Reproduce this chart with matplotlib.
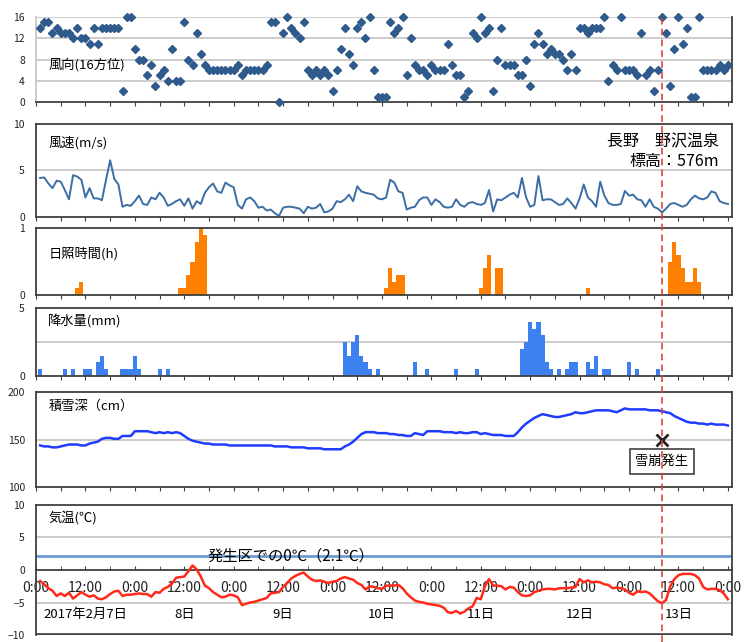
import numpy as np
import matplotlib
matplotlib.use('Agg')
import matplotlib.pyplot as plt
from matplotlib.transforms import blended_transform_factory

plt.rcParams['font.family'] = ['Noto Sans CJK JP', 'DejaVu Sans']

# 1時間毎のデータ (2017/2/7 1時 ～ 2/14 0時)
hours = np.arange(1, 169)

wind_dir = [
    14, 15, 15, 13, 14, 13, 13, 13, 12, 14, 12, 12, 11, 14, 11, 14, 14, 14, 14, 14, 2, 16, 16, 10,
    8, 8, 5, 7, 3, 5, 6, 4, 10, 4, 4, 15, 8, 7, 13, 9, 7, 6, 6, 6, 6, 6, 6, 6,
    7, 5, 6, 6, 6, 6, 6, 7, 15, 15, 0, 13, 16, 14, 13, 12, 15, 6, 5, 6, 5, 6, 5, 2,
    6, 10, 14, 9, 7, 14, 15, 12, 16, 6, 1, 1, 1, 15, 13, 14, 16, 5, 12, 7, 6, 6, 5, 7,
    6, 6, 6, 11, 7, 5, 5, 1, 2, 13, 12, 16, 13, 14, 2, 8, 14, 7, 7, 7, 5, 5, 8, 3,
    11, 13, 11, 9, 10, 9, 9, 8, 6, 9, 6, 14, 14, 13, 14, 14, 14, 16, 4, 7, 6, 16, 6, 6,
    6, 5, 13, 5, 6, 2, 6, 16, 13, 3, 10, 16, 11, 14, 1, 1, 16, 6, 6, 6, 6, 7, 6, 7,
]

wind_speed = [
    4.2, 4.25, 3.6, 3.1, 3.9, 3.8, 2.9, 1.9, 4.5, 4.35, 4.0, 2.1, 3.1, 2.0, 2.0, 1.8, 4.0, 6.1, 4.1, 3.5, 1.1, 1.3, 1.2, 1.7,
    2.3, 1.4, 1.3, 2.1, 1.9, 2.6, 2.1, 1.2, 1.4, 1.7, 1.9, 1.2, 2.0, 0.9, 1.7, 1.4, 2.6, 3.2, 3.6, 2.75, 2.6, 3.7, 3.4, 3.2,
    1.3, 0.9, 1.9, 2.1, 1.7, 1.0, 1.1, 0.7, 0.8, 0.4, 0.1, 1.0, 1.1, 1.1, 1.0, 0.9, 0.4, 1.1, 0.9, 1.0, 1.4, 0.5, 0.6, 0.9,
    1.7, 1.6, 1.9, 2.4, 1.7, 3.3, 2.75, 2.6, 2.5, 2.4, 2.0, 1.9, 2.1, 4.0, 3.7, 2.75, 2.6, 0.8, 1.0, 1.1, 1.8, 2.1, 2.1, 1.3,
    1.9, 1.6, 1.1, 1.0, 1.1, 1.9, 1.3, 1.1, 1.5, 1.6, 1.4, 1.3, 1.5, 2.9, 0.6, 1.9, 1.8, 2.1, 2.4, 2.6, 2.1, 4.2, 2.1, 1.1,
    1.3, 4.4, 1.8, 1.9, 1.9, 1.6, 1.3, 1.4, 2.0, 1.5, 0.9, 2.0, 3.5, 2.1, 1.7, 1.1, 3.8, 2.3, 1.5, 1.3, 1.3, 1.4, 2.8, 2.3,
    2.4, 1.9, 1.8, 1.1, 1.9, 1.1, 0.9, 0.5, 0.9, 1.4, 1.5, 1.3, 1.1, 1.3, 1.9, 2.3, 2.0, 1.9, 2.1, 2.75, 2.6, 1.7, 1.5, 1.4,
]

# 日照時間 (日照のあった時間のみ)
sun_hours = [10, 11, 35, 36, 37, 38, 39, 40, 41, 85, 86, 87, 88, 89,
             108, 109, 110, 112, 113, 134, 154, 155, 156, 157, 158, 159, 160, 161]
sun_values = [0.1, 0.2, 0.1, 0.1, 0.3, 0.5, 0.8, 1.0, 0.9, 0.1, 0.4, 0.2, 0.3, 0.3,
              0.1, 0.4, 0.6, 0.4, 0.4, 0.1, 0.5, 0.8, 0.6, 0.4, 0.2, 0.2, 0.4, 0.2]

# 降水量 (降水のあった時間のみ)
rain_hours = [1, 7, 9, 12, 13, 15, 16, 17, 21, 22, 23, 24, 25, 30, 32,
              75, 76, 77, 78, 79, 80, 81, 83, 92, 95, 102, 107,
              118, 119, 120, 121, 122, 123, 124, 125, 127, 129, 130, 131,
              134, 135, 136, 138, 139, 144, 146, 151]
rain_values = [0.5, 0.5, 0.5, 0.5, 0.5, 1.0, 1.5, 0.5, 0.5, 0.5, 0.5, 1.5, 0.5, 0.5, 0.5,
               2.5, 1.5, 2.5, 3.0, 1.5, 1.0, 0.5, 0.5, 1.0, 0.5, 0.5, 0.5,
               2.0, 2.5, 4.0, 3.5, 4.0, 3.0, 1.0, 0.5, 0.5, 0.5, 1.0, 1.0,
               1.0, 0.5, 1.5, 0.5, 0.5, 1.0, 0.5, 0.5]

snow_depth = [
    144, 143, 143, 142, 142, 143, 144, 145, 145, 145, 144, 144, 146, 147, 148, 151, 152, 152, 151, 151, 154, 154, 154, 159,
    159, 159, 159, 158, 157, 158, 157, 158, 157, 158, 157, 154, 151, 149, 148, 147, 146, 146, 145, 145, 145, 145, 144, 144,
    144, 144, 144, 144, 144, 144, 144, 144, 144, 143, 143, 143, 143, 142, 142, 142, 142, 141, 141, 141, 141, 140, 140, 140,
    140, 140, 143, 145, 148, 152, 156, 158, 158, 158, 157, 157, 157, 156, 156, 155, 155, 154, 154, 157, 156, 155, 159, 159,
    159, 159, 158, 158, 158, 157, 158, 157, 157, 158, 158, 156, 157, 156, 155, 155, 155, 154, 154, 154, 158, 163, 167, 170,
    173, 175, 177, 176, 175, 174, 174, 175, 176, 177, 179, 178, 178, 179, 180, 181, 181, 181, 181, 180, 179, 181, 183, 182,
    182, 182, 182, 182, 181, 181, 181, 180, 179, 178, 175, 173, 171, 169, 168, 168, 167, 167, 166, 167, 166, 166, 166, 165,
]

temperature = [
    -1.7, -2.2, -2.8, -3.2, -4.0, -3.6, -4.0, -3.5, -4.4, -3.9, -3.4, -3.8, -4.1, -3.9, -4.4, -4.5, -4.2, -3.7, -3.3, -3.2, -4.0, -3.8, -3.8, -3.7,
    -3.6, -3.7, -3.7, -4.1, -3.4, -3.5, -2.9, -2.6, -2.1, -1.2, -1.1, -1.0, -0.2, 0.7, 0.1, -1.0, -2.4, -2.8, -3.4, -3.8, -4.2, -4.1, -3.8, -3.9,
    -4.2, -5.4, -5.2, -5.0, -4.9, -4.7, -4.5, -4.3, -3.6, -3.5, -3.4, -2.6, -2.0, -1.3, -0.9, -0.6, -0.4, -1.0, -1.5, -1.7, -1.6, -1.8, -2.0, -1.8,
    -1.7, -1.3, -1.1, -1.3, -1.5, -2.0, -2.3, -3.0, -2.5, -2.6, -2.8, -2.9, -2.4, -2.4, -2.4, -2.3, -2.8, -3.6, -4.2, -4.7, -4.9, -5.0, -5.2, -5.3,
    -5.4, -5.5, -5.8, -6.5, -6.6, -6.3, -6.7, -6.4, -5.9, -5.6, -4.3, -4.5, -2.5, -1.4, -2.4, -2.4, -2.5, -3.0, -2.6, -2.7, -3.4, -3.9, -4.0, -3.9,
    -3.4, -3.2, -3.0, -2.9, -2.9, -3.0, -2.8, -2.8, -2.8, -2.7, -2.6, -1.4, -1.9, -1.6, -1.9, -1.8, -1.9, -2.2, -2.3, -2.8, -2.7, -2.8, -3.0, -3.5,
    -3.8, -3.3, -3.4, -3.3, -3.6, -4.2, -4.8, -5.1, -4.6, -2.5, -1.4, -0.8, -0.6, -0.6, -0.6, -0.8, -1.3, -2.6, -3.0, -2.9, -2.9, -3.1, -3.6, -4.5,
]

avalanche_hour = 152          # 13日 8時
avalanche_depth = 150
zero_level_temp = 2.1         # 発生区での0℃に相当する気温

time_ticks = np.arange(0, 169, 6)
label_ticks = np.arange(0, 169, 12)
time_labels = ['0:00' if t % 24 == 0 else '12:00' for t in label_ticks]
day_centers = [12, 36, 60, 84, 108, 132, 156]
day_labels = ['2017年2月7日', '8日', '9日', '10日', '11日', '12日', '13日']

frame = '#3f3f3f'
grid = '#c8c8c8'

fig = plt.figure(figsize=(7.49, 6.42), dpi=100)
left, width = 0.0481, 0.9292
ax_dir = fig.add_axes([left, 0.8411, width, 0.1324])
ax_ws = fig.add_axes([left, 0.6620, width, 0.1449])
ax_sun = fig.add_axes([left, 0.5405, width, 0.1039])
ax_rain = fig.add_axes([left, 0.4143, width, 0.1055])
ax_snow = fig.add_axes([left, 0.2410, width, 0.1480])
ax_temp = fig.add_axes([left, 0.0109, width, 0.2025])
axes = [ax_dir, ax_ws, ax_sun, ax_rain, ax_snow, ax_temp]

for ax in axes:
    ax.set_xlim(0, 169)
    ax.set_xticks(time_ticks)
    ax.tick_params(axis='x', direction='out', length=3, color=frame, labelbottom=False)
    ax.tick_params(axis='y', length=0, pad=8, labelsize=7.5, labelcolor='#222222')
    for s in ax.spines.values():
        s.set_color(frame)
        s.set_linewidth(1.3)

# 風向
ax_dir.plot(hours, wind_dir, 'D', color='#2f5b8c', markersize=4.2, clip_on=False, zorder=3)
ax_dir.set_ylim(0, 16)
ax_dir.set_yticks([0, 4, 8, 12, 16])
for v in [4, 8, 12, 16]:
    ax_dir.axhline(v, color=grid, lw=1.3, zorder=1)
ax_dir.spines['top'].set_visible(False)
ax_dir.spines['left'].set_color(grid)
ax_dir.text(3, 7, '風向(16方位)', fontsize=9.5, va='center')

# 風速
ax_ws.plot(hours, wind_speed, color='#3b6ea5', lw=1.4)
ax_ws.set_ylim(0, 10)
ax_ws.set_yticks([0, 5, 10])
ax_ws.axhline(5, color=grid, lw=1.3, zorder=1)
ax_ws.text(3, 8, '風速(m/s)', fontsize=9.5, va='center')
ax_ws.text(165.8, 8.1, '長野　野沢温泉', fontsize=11.5, ha='right', va='center')
ax_ws.text(165.8, 5.95, '標高：576m', fontsize=11.5, ha='right', va='center')

# 日照時間
ax_sun.bar(sun_hours, sun_values, width=1.0, color='#ff7f00')
ax_sun.set_ylim(0, 1)
ax_sun.set_yticks([0, 1])
ax_sun.text(3, 0.62, '日照時間(h)', fontsize=9.5, va='center')

# 降水量
ax_rain.bar(rain_hours, rain_values, width=1.0, color='#3d80f0')
ax_rain.set_ylim(0, 5)
ax_rain.set_yticks([0, 5])
ax_rain.axhline(2.5, color=grid, lw=1.3, zorder=0)
ax_rain.text(3, 4.0, '降水量(mm)', fontsize=9.5, va='center')

# 積雪深
ax_snow.plot(hours, snow_depth, color='#1f3cff', lw=1.8)
ax_snow.set_ylim(100, 200)
ax_snow.set_yticks([100, 150, 200])
ax_snow.axhline(150, color=grid, lw=1.3, zorder=0)
ax_snow.text(3, 185, '積雪深（cm）', fontsize=9.5, va='center')
ax_snow.plot(avalanche_hour, avalanche_depth, 'x', color='#222222', markersize=8, mew=2, zorder=4)
ax_snow.text(avalanche_hour, 127, '雪崩発生', fontsize=9.5, ha='center', va='center', zorder=4,
             bbox=dict(boxstyle='square,pad=0.45', fc='white', ec=frame, lw=1.2))

# 気温
ax_temp.plot(hours, temperature, color='#ff2a1a', lw=1.8, zorder=3)
ax_temp.set_ylim(-10, 10)
ax_temp.set_yticks([-10, -5, 0, 5, 10])
ax_temp.set_yticklabels(['\u221210', '\u22125', '0', '5', '10'])
for v in [5, -5]:
    ax_temp.axhline(v, color=grid, lw=1.3, zorder=0)
ax_temp.axhline(-10, color=frame, lw=2.6, zorder=2)
ax_temp.spines['bottom'].set_position(('data', 0))
ax_temp.tick_params(axis='x', direction='in', length=3, labelbottom=True, pad=8,
                    labelsize=10, labelcolor='#222222')
ax_temp.set_xticks(label_ticks, labels=time_labels)
ax_temp.set_xticks(time_ticks, minor=True)
ax_temp.tick_params(axis='x', which='minor', direction='in', length=3, color=frame)
ax_temp.axhline(zero_level_temp, color='#6b9bcf', lw=2, zorder=2)
ax_temp.text(62, zero_level_temp, '発生区での0℃（2.1℃）', fontsize=11, ha='center', va='center', zorder=4)
ax_temp.text(3, 8, '気温(℃)', fontsize=9.5, va='center')
for x, lab in zip(day_centers, day_labels):
    ax_temp.text(x, -6.9, lab, fontsize=9.5, ha='center', va='center')

# 雪崩発生時刻
trans = blended_transform_factory(ax_temp.transData, fig.transFigure)
fig.add_artist(plt.Line2D([avalanche_hour, avalanche_hour], [0.0, 0.975], transform=trans,
                          color='#d9483b', lw=1.2, ls=(0, (4, 2.5)), zorder=5))

fig.savefig('out.png', dpi=100)
